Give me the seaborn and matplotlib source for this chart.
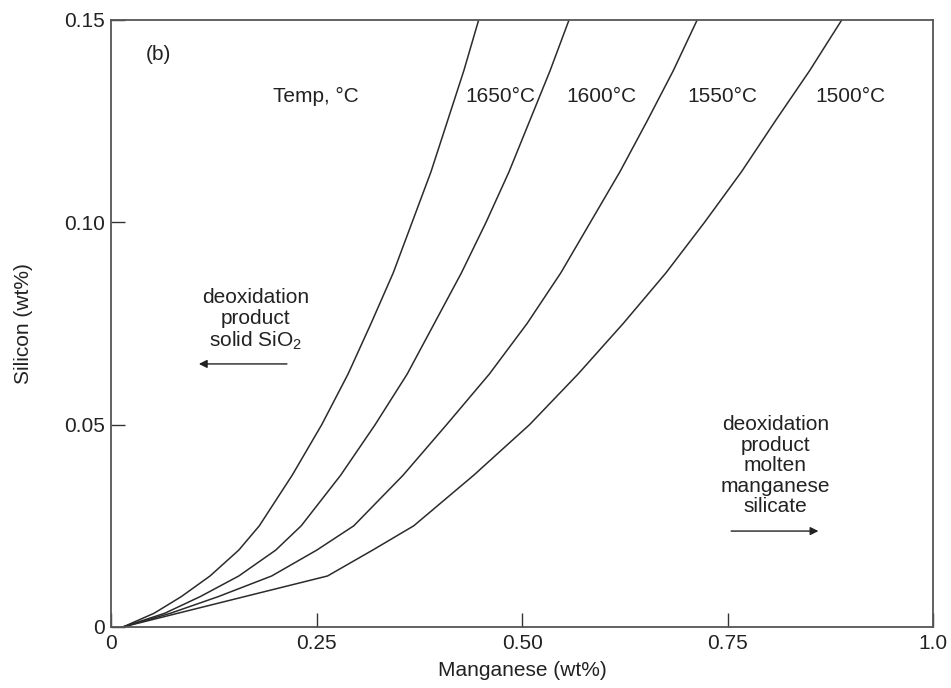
import numpy as np
import pandas as pd
import matplotlib
matplotlib.use("Agg")
import matplotlib.pyplot as plt
import seaborn as sns

# Silicon levels (wt%) at which the curves were read
si_levels = [0.0, 0.0034, 0.0075, 0.0126, 0.019, 0.025, 0.0375, 0.05, 0.0625,
             0.075, 0.0875, 0.10, 0.1125, 0.125, 0.1375, 0.15]

# Manganese (wt%) on each curve at those silicon levels
mn_1650 = [0.014, 0.052, 0.085, 0.120, 0.155, 0.180, 0.220, 0.256, 0.288,
           0.316, 0.343, 0.366, 0.389, 0.409, 0.429, 0.447]
mn_1600 = [0.014, 0.065, 0.108, 0.155, 0.200, 0.231, 0.279, 0.321, 0.360,
           0.393, 0.426, 0.456, 0.484, 0.509, 0.534, 0.557]
mn_1550 = [0.014, 0.072, 0.130, 0.195, 0.250, 0.295, 0.355, 0.408, 0.460,
           0.506, 0.547, 0.583, 0.619, 0.652, 0.684, 0.713]
mn_1500 = [0.014, 0.081, 0.162, 0.263, 0.318, 0.368, 0.441, 0.509, 0.568,
           0.623, 0.675, 0.722, 0.767, 0.808, 0.850, 0.889]

temps = ["1650°C", "1600°C", "1550°C", "1500°C"]
label_x = [0.473, 0.597, 0.744, 0.899]

x_ticks = [0, 0.25, 0.50, 0.75, 1.0]
x_ticklabels = ["0", "0.25", "0.50", "0.75", "1.0"]
y_ticks = [0, 0.05, 0.10, 0.15]
y_ticklabels = ["0", "0.05", "0.10", "0.15"]

rows = []
for t, mn in zip(temps, [mn_1650, mn_1600, mn_1550, mn_1500]):
    for m, s in zip(mn, si_levels):
        rows.append({"Temp": t, "Mn": m, "Si": s})
df = pd.DataFrame(rows)

sns.set_theme(style="white")
plt.rcParams["font.family"] = ["Liberation Sans", "DejaVu Sans"]
plt.rcParams["mathtext.fontset"] = "custom"
plt.rcParams["mathtext.rm"] = "Liberation Sans"

fig = plt.figure(figsize=(9.51, 6.88), dpi=100)
ax = fig.add_axes([0.1172, 0.0887, 0.8638, 0.8823])

sns.lineplot(data=df, x="Mn", y="Si", units="Temp", estimator=None, sort=False,
             color="#2b2b2b", linewidth=1.1, ax=ax)

ax.set_xlim(0, 1.0)
ax.set_ylim(0, 0.15)
ax.set_xticks(x_ticks)
ax.set_xticklabels(x_ticklabels)
ax.set_yticks(y_ticks)
ax.set_yticklabels(y_ticklabels)
ax.tick_params(bottom=True, left=True, direction="in", length=10, width=1.0,
               color="#333333", labelsize=15, labelcolor="#222222", pad=5)
for sp in ax.spines.values():
    sp.set_color("#555555")
    sp.set_linewidth(1.3)

ax.set_xlabel("Manganese (wt%)", fontsize=15, color="#222222", labelpad=6)
ax.set_ylabel("Silicon (wt%)", fontsize=15, color="#222222", labelpad=22)

tc = "#222222"
fs = 15
ax.text(0.057, 0.1415, "(b)", fontsize=fs, color=tc, ha="center", va="center")
ax.text(0.249, 0.131, "Temp, °C", fontsize=fs, color=tc, ha="center", va="center")
for t, lx in zip(temps, label_x):
    ax.text(lx, 0.131, t, fontsize=fs, color=tc, ha="center", va="center")

ax.text(0.175, 0.0758, "deoxidation\nproduct\nsolid SiO$_\\mathregular{2}$",
        fontsize=fs, color=tc, ha="center", va="center", linespacing=1.1)
ax.annotate("", xy=(0.103, 0.065), xytext=(0.217, 0.065),
            arrowprops=dict(arrowstyle="-|>", color="#222222", lw=1.0,
                            mutation_scale=12))

ax.text(0.808, 0.0398, "deoxidation\nproduct\nmolten\nmanganese\nsilicate",
        fontsize=fs, color=tc, ha="center", va="center", linespacing=1.1)
ax.annotate("", xy=(0.864, 0.0237), xytext=(0.751, 0.0237),
            arrowprops=dict(arrowstyle="-|>", color="#222222", lw=1.0,
                            mutation_scale=12))

fig.savefig("out.png", dpi=100)
